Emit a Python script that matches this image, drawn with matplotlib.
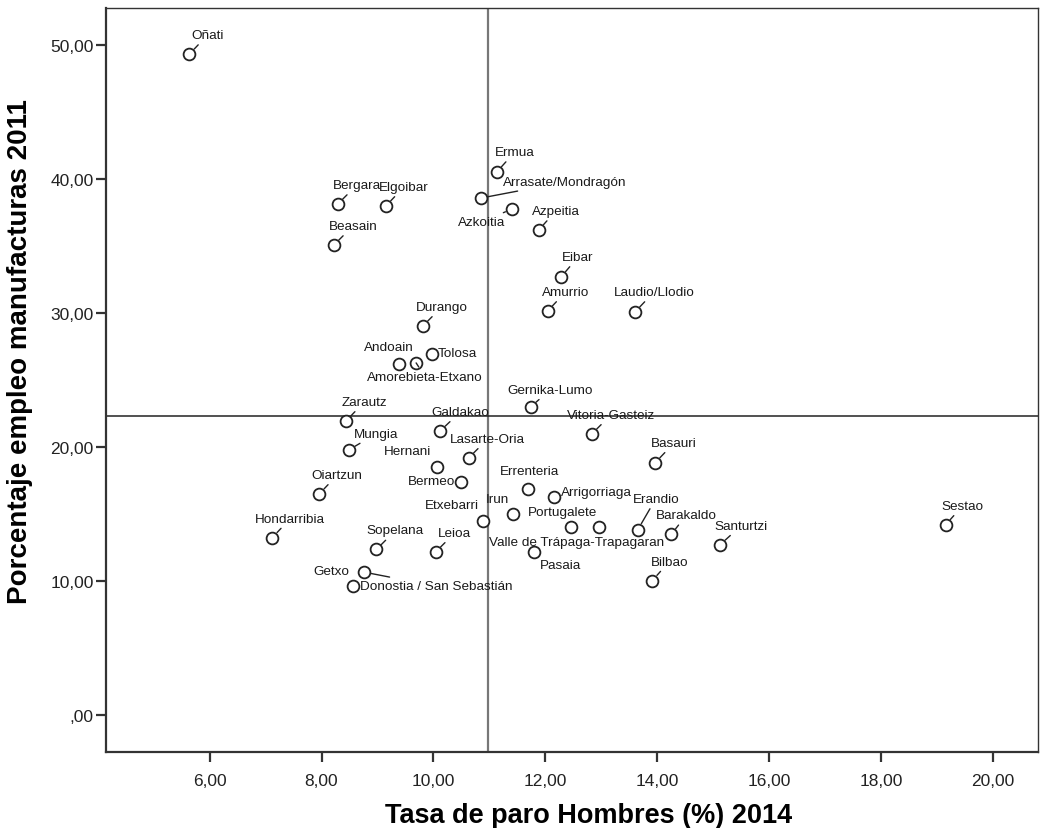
import matplotlib
matplotlib.use("Agg")
import matplotlib.pyplot as plt
from matplotlib.ticker import FuncFormatter

plt.rcParams['font.family'] = ['Liberation Sans', 'DejaVu Sans']

# municipios: paro masculino 2014 (%) vs empleo manufacturero 2011 (%)
municipios = ['Oñati', 'Ermua', 'Arrasate/Mondragón', 'Azkoitia', 'Azpeitia',
              'Bergara', 'Elgoibar', 'Beasain', 'Eibar', 'Amurrio',
              'Laudio/Llodio', 'Durango', 'Tolosa', 'Andoain', 'Amorebieta-Etxano',
              'Gernika-Lumo', 'Zarautz', 'Galdakao', 'Vitoria-Gasteiz', 'Mungia',
              'Lasarte-Oria', 'Basauri', 'Hernani', 'Bermeo', 'Oiartzun',
              'Errenteria', 'Arrigorriaga', 'Irun', 'Etxebarri', 'Portugalete',
              'Valle de Trápaga-Trapagaran', 'Erandio', 'Barakaldo', 'Santurtzi', 'Sestao',
              'Hondarribia', 'Sopelana', 'Leioa', 'Pasaia', 'Bilbao',
              'Donostia / San Sebastián', 'Getxo']
paro = [5.64, 11.13, 10.85, 11.40, 11.88,
        8.29, 9.15, 8.22, 12.28, 12.04,
        13.60, 9.81, 9.97, 9.38, 9.69,
        11.74, 8.44, 10.12, 12.83, 8.49,
        10.63, 13.96, 10.06, 10.49, 7.96,
        11.69, 12.15, 11.42, 10.88, 12.46,
        12.96, 13.65, 14.25, 15.12, 19.15,
        7.12, 8.98, 10.04, 11.80, 13.91,
        8.76, 8.57]
manufactura = [49.33, 40.52, 38.58, 37.76, 36.19,
               38.13, 37.99, 35.07, 32.69, 30.15,
               30.07, 29.03, 26.94, 26.19, 26.27,
               22.99, 21.94, 21.19, 20.97, 19.78,
               19.18, 18.81, 18.51, 17.39, 16.49,
               16.87, 16.27, 15.00, 14.48, 14.03,
               14.03, 13.81, 13.48, 12.69, 14.18,
               13.23, 12.34, 12.16, 12.14, 10.02,
               10.65, 9.60]
media_paro = 10.97
media_manufactura = 22.31

# label placement (offset in pixels from the point, leader line or not)
etiquetas = {
    'Oñati': (18, 19, True), 'Ermua': (18, 20, True),
    'Arrasate/Mondragón': (84, 16, True), 'Azkoitia': (-30, -13, True),
    'Azpeitia': (17, 19, True), 'Bergara': (19, 19, True),
    'Elgoibar': (18, 19, True), 'Beasain': (19, 19, True),
    'Eibar': (17, 20, True), 'Amurrio': (18, 19, True),
    'Laudio/Llodio': (19, 20, True), 'Durango': (19, 19, True),
    'Tolosa': (26, 1, False), 'Andoain': (-10, 17, False),
    'Amorebieta-Etxano': (9, -14, True), 'Gernika-Lumo': (19, 17, True),
    'Zarautz': (18, 19, True), 'Galdakao': (20, 19, True),
    'Vitoria-Gasteiz': (19, 19, True), 'Mungia': (27, 16, True),
    'Lasarte-Oria': (19, 19, True), 'Basauri': (19, 20, True),
    'Hernani': (-29, 16, False), 'Bermeo': (-29, 1, False),
    'Oiartzun': (18, 19, True), 'Errenteria': (1, 18, False),
    'Arrigorriaga': (43, 5, False), 'Irun': (-16, 15, False),
    'Etxebarri': (-31, 16, False), 'Portugalete': (-9, 15, False),
    'Valle de Trápaga-Trapagaran': (-23, -15, False), 'Erandio': (18, 31, True),
    'Barakaldo': (15, 19, True), 'Santurtzi': (21, 19, True),
    'Sestao': (17, 19, True), 'Hondarribia': (18, 19, True),
    'Sopelana': (19, 19, True), 'Leioa': (19, 19, True),
    'Pasaia': (26, -13, False), 'Bilbao': (17, 19, True),
    'Donostia / San Sebastián': (72, -14, True), 'Getxo': (-22, 15, False),
}

fig = plt.figure(figsize=(10.4, 8.29), dpi=100)
ax = fig.add_axes([0.102, 0.092, 0.896, 0.897])

ax.axvline(media_paro, color='#777777', lw=1.6, zorder=1)
ax.axhline(media_manufactura, color='#222222', lw=1.1, zorder=1)

ax.scatter(paro, manufactura, s=72, facecolor='white', edgecolor='#222222',
           linewidth=1.3, zorder=3)

for nombre, x, y in zip(municipios, paro, manufactura):
    dx, dy, linea = etiquetas[nombre]
    props = None
    if linea:
        props = dict(arrowstyle='-', color='#222222', lw=1.0,
                     shrinkA=1, shrinkB=5)
    ax.annotate(nombre, xy=(x, y), xytext=(dx, dy), textcoords='offset pixels',
                ha='center', va='center', fontsize=9.7, color='#1a1a1a',
                arrowprops=props, zorder=4)

ax.set_xlim(4.15, 20.8)
ax.set_ylim(-2.76, 52.76)
ax.set_xticks([6, 8, 10, 12, 14, 16, 18, 20])
ax.set_yticks([0, 10, 20, 30, 40, 50])


def coma(v, pos):
    txt = ('%.2f' % v).replace('.', ',')
    return txt.lstrip('0') if v == 0 else txt


ax.xaxis.set_major_formatter(FuncFormatter(coma))
ax.yaxis.set_major_formatter(FuncFormatter(coma))

ax.tick_params(axis='both', direction='out', length=7, width=1.6,
               colors='#333333', labelsize=12.5, labelcolor='#222222')
ax.tick_params(axis='x', pad=8)
ax.tick_params(axis='y', pad=2)

for lado in ['left', 'bottom']:
    ax.spines[lado].set_linewidth(1.6)
    ax.spines[lado].set_color('#333333')
for lado in ['top', 'right']:
    ax.spines[lado].set_linewidth(1.0)
    ax.spines[lado].set_color('#333333')

ax.set_xlabel('Tasa de paro Hombres (%) 2014', fontsize=19.5, fontweight='bold')
ax.set_ylabel('Porcentaje empleo manufacturas 2011', fontsize=20,
              fontweight='bold')
ax.xaxis.set_label_coords(0.518, -0.067)
ax.yaxis.set_label_coords(-0.078, 0.539)

fig.savefig('out.png', dpi=100)
